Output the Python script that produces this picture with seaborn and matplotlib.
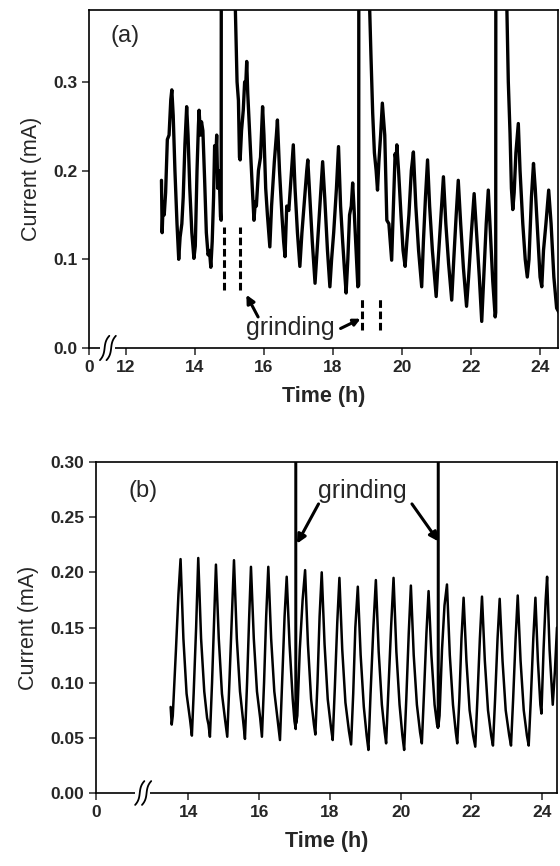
import numpy as np
import pandas as pd
import matplotlib
matplotlib.use("Agg")
import matplotlib.pyplot as plt
import seaborn as sns

# -----------------------------------
# Data (time in h, current in mA)
# values of 0.6 are off-scale spikes (grinding)
# -----------------------------------
time_a = [13.03, 13.05, 13.08, 13.11, 13.15, 13.20, 13.25, 13.30, 13.33, 13.37,
          13.42, 13.48, 13.53, 13.57, 13.62, 13.66, 13.71, 13.76, 13.80, 13.85,
          13.91, 13.97, 14.01, 14.06, 14.10, 14.12, 14.16, 14.19, 14.23, 14.28,
          14.33, 14.38, 14.42, 14.46, 14.50, 14.54, 14.57, 14.60, 14.63, 14.66,
          14.70, 14.74, 14.76, 14.765, 15.10, 15.16, 15.22, 15.26, 15.29, 15.31,
          15.35, 15.40, 15.44, 15.47, 15.50, 15.53, 15.60, 15.66, 15.71, 15.75,
          15.78, 15.84, 15.90, 15.96, 16.00, 16.05, 16.10, 16.17, 16.22, 16.30,
          16.36, 16.39, 16.45, 16.52, 16.57, 16.61, 16.66, 16.72, 16.80, 16.85,
          16.90, 16.97, 17.04, 17.10, 17.18, 17.24, 17.27, 17.33, 17.40, 17.48,
          17.54, 17.62, 17.70, 17.76, 17.84, 17.91, 17.96, 18.02, 18.10, 18.16,
          18.22, 18.28, 18.33, 18.38, 18.43, 18.48, 18.53, 18.57, 18.62, 18.67,
          18.72, 18.745, 18.75, 19.00, 19.05, 19.10, 19.15, 19.20, 19.25, 19.29,
          19.33, 19.38, 19.43, 19.47, 19.50, 19.56, 19.62, 19.70, 19.75, 19.80,
          19.83, 19.85, 19.90, 19.97, 20.03, 20.09, 20.14, 20.20, 20.27, 20.33,
          20.40, 20.48, 20.57, 20.62, 20.68, 20.74, 20.80, 20.88, 20.99, 21.05,
          21.13, 21.20, 21.27, 21.35, 21.44, 21.50, 21.57, 21.63, 21.70, 21.78,
          21.87, 21.93, 22.01, 22.09, 22.16, 22.24, 22.31, 22.37, 22.44, 22.50,
          22.56, 22.63, 22.70, 22.715, 22.72, 23.00, 23.03, 23.08, 23.13, 23.17,
          23.21, 23.25, 23.30, 23.37, 23.42, 23.50, 23.57, 23.63, 23.68, 23.75,
          23.81, 23.86, 23.93, 24.00, 24.05, 24.10, 24.17, 24.25, 24.32, 24.40,
          24.48, 24.55]
current_a = [0.189, 0.130, 0.165, 0.150, 0.175, 0.235, 0.240, 0.280, 0.291, 0.262,
             0.200, 0.140, 0.100, 0.125, 0.140, 0.170, 0.230, 0.272, 0.240, 0.180,
             0.130, 0.101, 0.115, 0.200, 0.250, 0.268, 0.240, 0.255, 0.245, 0.190,
             0.130, 0.105, 0.110, 0.091, 0.120, 0.170, 0.228, 0.210, 0.240, 0.180,
             0.200, 0.148, 0.144, 0.600, 0.600, 0.400, 0.300, 0.279, 0.215, 0.212,
             0.245, 0.268, 0.300, 0.295, 0.323, 0.287, 0.230, 0.182, 0.144, 0.165,
             0.160, 0.200, 0.215, 0.272, 0.240, 0.180, 0.150, 0.114, 0.160, 0.210,
             0.240, 0.257, 0.200, 0.150, 0.120, 0.103, 0.160, 0.155, 0.200, 0.229,
             0.180, 0.130, 0.092, 0.130, 0.170, 0.200, 0.212, 0.170, 0.120, 0.073,
             0.110, 0.160, 0.210, 0.170, 0.110, 0.069, 0.100, 0.130, 0.180, 0.227,
             0.160, 0.120, 0.090, 0.062, 0.100, 0.150, 0.160, 0.186, 0.150, 0.110,
             0.069, 0.071, 0.600, 0.600, 0.400, 0.330, 0.265, 0.220, 0.200, 0.178,
             0.210, 0.240, 0.276, 0.255, 0.240, 0.144, 0.140, 0.099, 0.160, 0.219,
             0.210, 0.229, 0.200, 0.150, 0.110, 0.092, 0.120, 0.150, 0.200, 0.221,
             0.160, 0.110, 0.069, 0.120, 0.170, 0.212, 0.160, 0.110, 0.058, 0.100,
             0.150, 0.193, 0.140, 0.095, 0.054, 0.100, 0.150, 0.189, 0.140, 0.090,
             0.047, 0.080, 0.130, 0.174, 0.130, 0.080, 0.030, 0.080, 0.140, 0.178,
             0.130, 0.075, 0.035, 0.040, 0.600, 0.600, 0.400, 0.300, 0.242, 0.180,
             0.156, 0.175, 0.220, 0.253, 0.200, 0.140, 0.100, 0.080, 0.100, 0.170,
             0.208, 0.180, 0.130, 0.080, 0.069, 0.110, 0.140, 0.178, 0.140, 0.080,
             0.045, 0.040]

time_b = [13.50, 13.53, 13.56, 13.65, 13.72, 13.78, 13.86, 13.95, 14.05, 14.10,
          14.15, 14.22, 14.28, 14.36, 14.45, 14.53, 14.57, 14.61, 14.67, 14.73,
          14.78, 14.86, 14.95, 15.04, 15.10, 15.16, 15.23, 15.29, 15.37, 15.46,
          15.55, 15.60, 15.66, 15.72, 15.77, 15.85, 15.94, 16.03, 16.08, 16.14,
          16.20, 16.26, 16.34, 16.43, 16.53, 16.59, 16.65, 16.72, 16.78, 16.86,
          16.95, 17.00, 17.035, 17.04, 17.045, 17.08, 17.15, 17.23, 17.30, 17.38,
          17.47, 17.55, 17.59, 17.65, 17.71, 17.77, 17.85, 17.94, 18.03, 18.08,
          18.14, 18.21, 18.27, 18.35, 18.44, 18.54, 18.60, 18.66, 18.72, 18.79,
          18.87, 18.96, 19.04, 19.09, 19.15, 19.23, 19.30, 19.38, 19.47, 19.55,
          19.59, 19.65, 19.73, 19.80, 19.88, 19.97, 20.05, 20.10, 20.16, 20.23,
          20.29, 20.37, 20.46, 20.55, 20.60, 20.66, 20.73, 20.79, 20.87, 20.96,
          21.03, 21.055, 21.06, 21.065, 21.10, 21.17, 21.24, 21.31, 21.39, 21.48,
          21.56, 21.60, 21.66, 21.72, 21.78, 21.86, 21.95, 22.05, 22.11, 22.17,
          22.24, 22.30, 22.38, 22.47, 22.56, 22.61, 22.67, 22.74, 22.80, 22.88,
          22.97, 23.07, 23.12, 23.18, 23.25, 23.31, 23.39, 23.48, 23.57, 23.62,
          23.68, 23.75, 23.81, 23.88, 23.95, 23.98, 24.04, 24.10, 24.14, 24.21,
          24.30, 24.36, 24.42]
current_b = [0.078, 0.062, 0.070, 0.130, 0.180, 0.212, 0.140, 0.090, 0.066, 0.052,
             0.090, 0.150, 0.213, 0.140, 0.092, 0.068, 0.062, 0.051, 0.100, 0.160,
             0.207, 0.140, 0.090, 0.066, 0.051, 0.100, 0.160, 0.211, 0.140, 0.092,
             0.065, 0.049, 0.100, 0.160, 0.205, 0.140, 0.092, 0.068, 0.051, 0.100,
             0.160, 0.205, 0.140, 0.092, 0.064, 0.048, 0.100, 0.160, 0.196, 0.135,
             0.085, 0.065, 0.058, 0.600, 0.063, 0.070, 0.130, 0.175, 0.202, 0.135,
             0.085, 0.062, 0.053, 0.100, 0.160, 0.200, 0.135, 0.085, 0.060, 0.048,
             0.095, 0.155, 0.195, 0.130, 0.082, 0.056, 0.044, 0.090, 0.150, 0.187,
             0.125, 0.078, 0.052, 0.039, 0.090, 0.150, 0.193, 0.128, 0.080, 0.055,
             0.045, 0.090, 0.150, 0.195, 0.128, 0.080, 0.052, 0.039, 0.085, 0.145,
             0.188, 0.125, 0.080, 0.055, 0.045, 0.090, 0.145, 0.183, 0.125, 0.080,
             0.062, 0.059, 0.600, 0.060, 0.070, 0.130, 0.170, 0.189, 0.125, 0.080,
             0.055, 0.045, 0.085, 0.140, 0.177, 0.120, 0.075, 0.052, 0.042, 0.085,
             0.140, 0.178, 0.120, 0.075, 0.052, 0.043, 0.085, 0.140, 0.176, 0.120,
             0.075, 0.052, 0.043, 0.085, 0.140, 0.179, 0.120, 0.075, 0.052, 0.043,
             0.085, 0.140, 0.177, 0.120, 0.080, 0.072, 0.130, 0.175, 0.196, 0.130,
             0.080, 0.110, 0.150]

# grinding markers in panel (a): x position, y bottom, y top
grind_x_a = [14.84, 15.30, 18.83, 19.36]
grind_lo_a = [0.065, 0.065, 0.020, 0.020]
grind_hi_a = [0.136, 0.136, 0.056, 0.056]

xticks_a = [12, 14, 16, 18, 20, 22, 24]
xticks_b = [14, 16, 18, 20, 22, 24]

df_a = pd.DataFrame({"time": time_a, "current": current_a})
df_b = pd.DataFrame({"time": time_b, "current": current_b})

# -----------------------------------
# Style
# -----------------------------------
sns.set_style("ticks")
plt.rcParams["font.family"] = ["Liberation Sans", "DejaVu Sans"]
plt.rcParams["axes.linewidth"] = 1.2

fig = plt.figure(figsize=(5.6, 8.66), dpi=100)
ax1 = fig.add_axes([89 / 560, 1 - 348 / 866, 469 / 560, 338 / 866])
ax2 = fig.add_axes([96 / 560, 1 - 793 / 866, 461 / 560, 331 / 866])


def axis_break(ax, x0, x1):
    # white gap in the bottom spine plus two integral-like strokes
    ax.plot([x0, x1], [0, 0], transform=ax.transAxes, color="white",
            lw=3, clip_on=False, zorder=5, solid_capstyle="butt")
    s = np.linspace(0, 1, 30)
    h = 0.036
    for xc in [x0 + 0.3 * (x1 - x0), x0 + 0.75 * (x1 - x0)]:
        xs = xc + 0.014 * 4 * (s - 0.5) ** 3 + 0.006 * (s - 0.5)
        ys = -h + 2 * h * s
        ax.plot(xs, ys, transform=ax.transAxes, color="black", lw=1.3,
                clip_on=False, zorder=6)


def style_axis(ax, xmin, xmax, ymax, xticks, yticks, yfmt):
    ax.set_xlim(xmin, xmax)
    ax.set_ylim(0, ymax)
    ax.set_xticks([xmin] + xticks)
    ax.set_xticklabels(["0"] + [str(t) for t in xticks])
    ax.set_yticks(yticks)
    ax.set_yticklabels([yfmt.format(v) for v in yticks])
    ax.tick_params(direction="out", length=5, width=1.1, labelsize=12.5)
    for lab in ax.get_xticklabels() + ax.get_yticklabels():
        lab.set_fontweight("bold")
    ax.set_xlabel("Time (h)", fontsize=15.5, fontweight="bold", labelpad=8)
    ax.set_ylabel("Current (mA)", fontsize=15.5, labelpad=8)
    for sp in ax.spines.values():
        sp.set_visible(True)
        sp.set_color("black")


# -----------------------------------
# Panel (a)
# -----------------------------------
sns.lineplot(data=df_a, x="time", y="current", ax=ax1, color="black",
             lw=2.4, sort=False, estimator=None)
ax1.vlines(grind_x_a, grind_lo_a, grind_hi_a, colors="black",
           linestyles=(0, (2.5, 1.2)), lw=2.2)
style_axis(ax1, 10.93, 24.52, 0.381, xticks_a, [0.0, 0.1, 0.2, 0.3], "{:.1f}")
ax1.text(0.045, 0.955, "(a)", transform=ax1.transAxes, fontsize=17,
         ha="left", va="top")
ax1.annotate("", xy=(15.49, 0.060), xytext=(15.83, 0.035),
             arrowprops=dict(arrowstyle="-|>", color="black", lw=2.2,
                             mutation_scale=12, shrinkA=0, shrinkB=0))
ax1.text(16.75, 0.023, "grinding", fontsize=18, ha="center", va="center")
ax1.annotate("", xy=(18.80, 0.033), xytext=(18.22, 0.022),
             arrowprops=dict(arrowstyle="-|>", color="black", lw=2.2,
                             mutation_scale=10, shrinkA=0, shrinkB=0))
axis_break(ax1, 0.024, 0.055)

# -----------------------------------
# Panel (b)
# -----------------------------------
sns.lineplot(data=df_b, x="time", y="current", ax=ax2, color="black",
             lw=1.8, sort=False, estimator=None)
style_axis(ax2, 11.39, 24.42, 0.30, xticks_b,
           [0.0, 0.05, 0.10, 0.15, 0.20, 0.25, 0.30], "{:.2f}")
ax2.text(0.07, 0.945, "(b)", transform=ax2.transAxes, fontsize=17,
         ha="left", va="top")
ax2.text(18.93, 0.274, "grinding", fontsize=18, ha="center", va="center")
ax2.annotate("", xy=(17.07, 0.226), xytext=(17.68, 0.262),
             arrowprops=dict(arrowstyle="-|>", color="black", lw=2.2,
                             mutation_scale=13, shrinkA=0, shrinkB=0))
ax2.annotate("", xy=(21.07, 0.228), xytext=(20.32, 0.262),
             arrowprops=dict(arrowstyle="-|>", color="black", lw=2.2,
                             mutation_scale=13, shrinkA=0, shrinkB=0))
axis_break(ax2, 0.085, 0.118)

fig.savefig("out.png", dpi=100)
